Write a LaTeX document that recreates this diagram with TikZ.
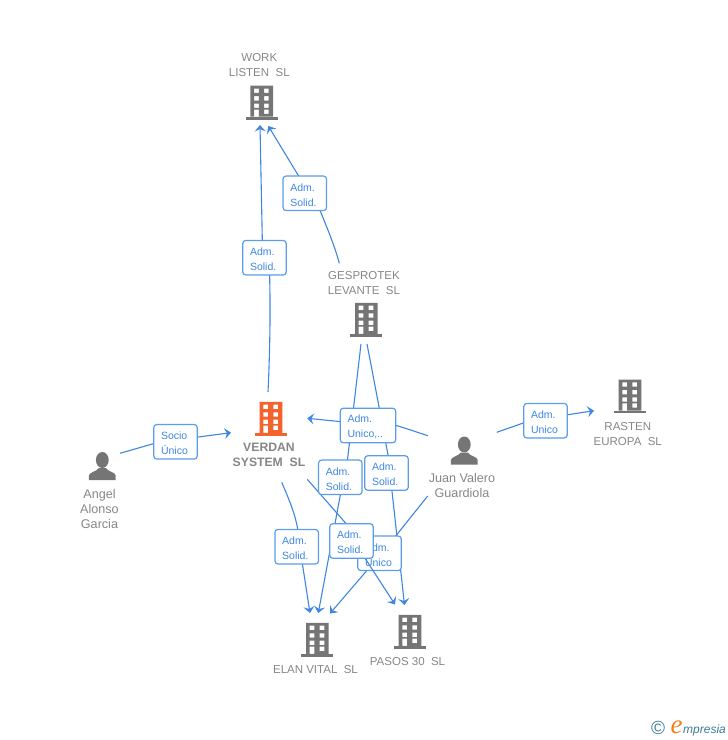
\documentclass[tikz,border=0pt]{standalone}
\usepackage{fontspec}
\setmainfont{Liberation Sans}
\newfontfamily\logoserif{Liberation Serif}
\usetikzlibrary{arrows.meta,backgrounds}
\definecolor{linkblue}{HTML}{3F86E2}
\definecolor{boxblue}{HTML}{5C9CEB}
\definecolor{namegray}{HTML}{868686}
\definecolor{icongray}{HTML}{757575}
\definecolor{mainorange}{HTML}{F4622E}
\definecolor{logoteal}{HTML}{3B7C96}
\definecolor{logoorange}{HTML}{F0801E}
\tikzset{link/.style={draw=linkblue,line width=1.1pt},
  linkto/.style={link,-{Stealth[length=6.5pt,width=11pt,inset=2.5pt]}},
  relbox/.style={draw=boxblue,fill=white,line width=1.2pt,rounded corners=3pt,minimum width=43.5pt,minimum height=34.5pt,inner sep=0pt,text=linkblue,align=left,text width=29pt,font=\fontsize{10.5}{15}\selectfont,execute at begin node=\rule{0pt}{10.8pt}},
  company/.style={text=namegray,align=center,inner sep=0pt,font=\fontsize{11.5}{15}\selectfont},
  person/.style={text=namegray,align=center,inner sep=0pt,font=\fontsize{12.6}{15}\selectfont},
  pics/building/.style={code={
    \fill[#1] (-16,-2.8) rectangle (16,0);
    \fill[#1,even odd rule] (-11.3,-33.8) rectangle (11.3,-2.8)
      (-7.6,-31) rectangle (-2.9,-26.6) (2.3,-31) rectangle (7,-26.6)
      (-7.6,-23.4) rectangle (-2.9,-19) (2.3,-23.4) rectangle (7,-19)
      (-7.6,-16) rectangle (-2.9,-11.6) (2.3,-16) rectangle (7,-11.6)
      (-7.6,-10) rectangle (-2.9,-2.8) (2.3,-10) rectangle (7,-5.6);
  }},
  pics/silhouette/.style={code={
    \fill[icongray] (0,8) ellipse (6.4 and 8);
    \fill[icongray] (-13.4,28) -- (-13.4,23.5) .. controls (-13,20) and (-6,20) .. (-3.5,16) -- (3.5,16) .. controls (6,20) and (13,20) .. (13.4,23.5) -- (13.4,28) -- cycle;
  }}}
\begin{document}
\begin{tikzpicture}[x=1pt,y=-1pt]
  \useasboundingbox (0,0) rectangle (728,740);
  % buildings and people
  \pic at (261.7,119.5) {building=icongray};
  \pic at (366.3,336.7) {building=icongray};
  \pic at (271,435.7) {building=mainorange};
  \pic at (317.3,656.7) {building=icongray};
  \pic at (410,648.7) {building=icongray};
  \pic at (630,413.3) {building=icongray};
  \pic at (102.3,452) {silhouette};
  \pic at (464.3,436.5) {silhouette};
  % names
  \node[company] (worklisten) at (259.3,65.3) {WORK\\LISTEN\ \ SL};
  \node[company] (gesprotek) at (364,283.3) {GESPROTEK\\LEVANTE\ \ SL};
  \node[company,font=\fontsize{12.2}{15.5}\selectfont\bfseries] (verdan) at (269,455) {VERDAN\\SYSTEM\ \ SL};
  \node[company] (rasten) at (627.8,434.3) {RASTEN\\EUROPA\ \ SL};
  \node[company] (elan) at (315.5,669.8) {ELAN VITAL\ \ SL};
  \node[company] (pasos) at (407.5,661.8) {PASOS 30\ \ SL};
  \node[person] (angel) at (99.5,509) {Angel\\Alonso\\Garcia};
  \node[person] (juan) at (462,485.5) {Juan Valero\\Guardiola};
  % relation boxes
  \node[relbox] (solidwork) at (304.8,193.3) {Adm.\\Solid.};
  \node[relbox] (solidverdan) at (264.5,257.7) {Adm.\\Solid.};
  \node[relbox,minimum width=55.5pt,text width=41pt] (unicoverdan) at (368,425.5) {Adm.\\Unico,..};
  \node[relbox] (solidgespa) at (340.3,477.3) {Adm.\\Solid.};
  \node[relbox] (solidgespb) at (386.5,473) {Adm.\\Solid.};
  \node[relbox] (solidelan) at (296.7,546.7) {Adm.\\Solid.};
  \node[relbox] (solidpasos) at (351.5,541) {Adm.\\Solid.};
  \node[relbox] (socio) at (175.5,441.8) {Socio\\Único};
  \node[relbox] (unicorasten) at (545.5,420.7) {Adm.\\Unico};
  % line ends
  \coordinate (verdantop) at (268,392);
  \coordinate (worktipa) at (260,125);
  \coordinate (gesptop) at (339.3,263.3);
  \coordinate (worktipb) at (268.3,126);
  \coordinate (gesplefta) at (361,344);
  \coordinate (gespleftb) at (367,344);
  \coordinate (elantipa) at (318.3,613);
  \coordinate (elantipb) at (310,613);
  \coordinate (elantipc) at (330,613.5);
  \coordinate (pasostipa) at (404.5,605);
  \coordinate (pasostipb) at (395,604.5);
  \coordinate (verdanlow) at (281.7,482.3);
  \coordinate (verdanright) at (307.3,479.3);
  \coordinate (juanlow) at (427.7,496);
  \coordinate (unicoelanin) at (395.7,536);
  \coordinate (unicoelanout) at (366.7,570.7);
  \coordinate (juanleft) at (427.7,435.7);
  \coordinate (verdantip) at (307.3,418.3);
  \coordinate (angelout) at (120,453.3);
  \coordinate (verdantipb) at (231,432.7);
  \coordinate (juanright) at (496.7,432.3);
  \coordinate (rastentip) at (594,410.7);
  \begin{scope}[on background layer]
    \draw[linkto] (verdantop) .. controls (270,350) and (270.5,310) .. (solidverdan.-74.5) -- (solidverdan.97) -- (worktipa);
    \draw[linkto] (gesptop) .. controls (335,247) and (328,230) .. (solidwork.-49) -- (solidwork.110.6) -- (worktipb);
    \draw[linkto] (gesplefta) -- (solidgespa.68) -- (solidgespa.south) -- (elantipa);
    \draw[linkto] (gespleftb) .. controls (371,365) and (375,385) .. (solidgespb.85) -- (solidgespb.-73) -- (pasostipa);
    \draw[linkto] (verdanlow) .. controls (288,497) and (295,513) .. (solidelan.87) -- (solidelan.-72) -- (elantipb);
    \draw[linkto] (juanlow) -- (unicoelanin) -- (unicoelanout) -- (elantipc);
    \draw[linkto] (juanleft) .. controls (417,432) and (406,428.5) .. (unicoverdan.east) -- (unicoverdan.172) -- (verdantip);
    \draw[linkto] (angelout) -- (socio.185) -- (socio.12) -- (verdantipb);
    \draw[linkto] (juanright) -- (unicorasten.186) -- (unicorasten.15) -- (rastentip);
    \node[relbox] (unicoelan) at (379.5,553.3) {Adm.\\Unico};
    \draw[linkto] (verdanright) -- (solidpasos.108) -- (solidpasos.-52) -- (pasostipb);
  \end{scope}
  % logo
  \node[text=logoteal,inner sep=0pt,font=\fontsize{19}{19}\selectfont] (logomark) at (658,728) {©};
  \node[text=logoorange,inner sep=0pt,anchor=base west,font=\fontsize{27}{27}\logoserif\itshape] (logoe) at (670.5,733) {e};
  \node[text=logoteal,inner sep=0pt,anchor=base west,font=\fontsize{12}{12}\selectfont\itshape] (logotext) at (683,733) {mpresia};
\end{tikzpicture}
\end{document}
